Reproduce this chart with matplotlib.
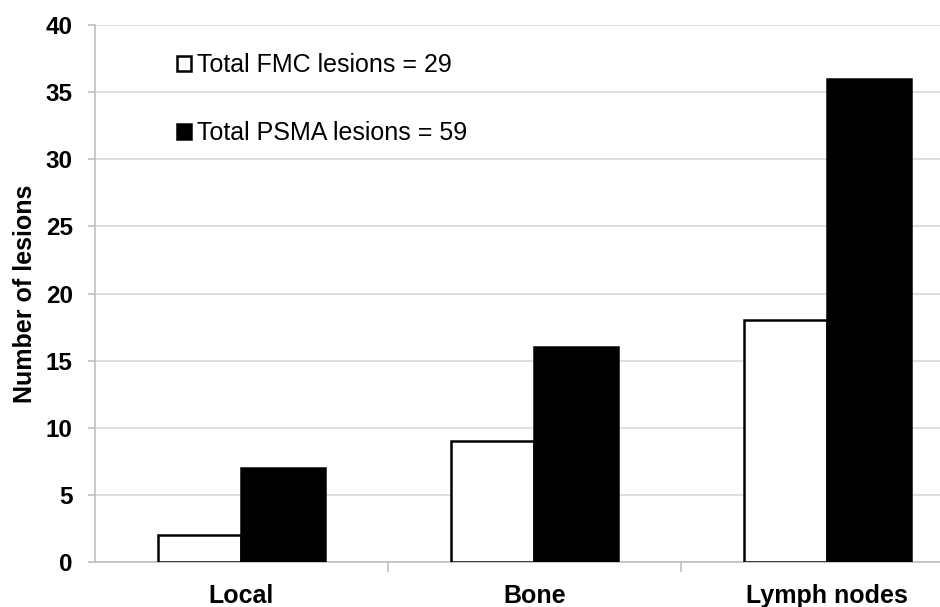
import numpy as np
import matplotlib.pyplot as plt

plt.rcParams['font.family'] = ['Liberation Sans', 'DejaVu Sans']

# 数据
categories = ['Local', 'Bone', 'Lymph nodes']
fmc_values = [2, 9, 18]
psma_values = [7, 16, 36]
fmc_label = 'Total FMC lesions = 29'
psma_label = 'Total PSMA lesions = 59'
y_ticks = [0, 5, 10, 15, 20, 25, 30, 35, 40]

fig = plt.figure(figsize=(9.4, 6.07), dpi=100)
ax = fig.add_axes([0.101, 0.0741, 0.935, 0.8847])

x = np.arange(len(categories))
w = 0.286
ax.bar(x - w/2, fmc_values, w, color='white', edgecolor='black', linewidth=1.8, label=fmc_label, zorder=3)
ax.bar(x + w/2, psma_values, w, color='black', edgecolor='black', linewidth=1.8, label=psma_label, zorder=3)

ax.set_xlim(-0.5, 2.5)
ax.set_ylim(0, 40)
ax.set_yticks(y_ticks)
ax.yaxis.grid(True, color='#d9d9d9', linewidth=1.2, zorder=0)
ax.set_axisbelow(True)

#类别分隔刻度
ax.set_xticks([0.5, 1.5])
ax.set_xticklabels([])
ax.set_xticks(x, minor=True)
ax.set_xticklabels(categories, minor=True, fontsize=18, fontweight='bold')
ax.tick_params(axis='x', which='major', length=7, color='#bfbfbf', width=1.2)
ax.tick_params(axis='x', which='minor', length=0, pad=16)
ax.tick_params(axis='y', length=5, color='#bfbfbf', width=1.2, labelsize=17.5, pad=11)
for lab in ax.get_yticklabels():
    lab.set_fontweight('bold')

for s in ['top', 'right']:
    ax.spines[s].set_visible(False)
ax.spines['left'].set_color('#bfbfbf')
ax.spines['left'].set_linewidth(1.2)
ax.spines['bottom'].set_color('#bfbfbf')
ax.spines['bottom'].set_linewidth(1.2)

ax.set_ylabel('Number of lesions', fontsize=18, fontweight='bold', labelpad=6)

ax.legend(loc='upper left', bbox_to_anchor=(0.068, 0.99), frameon=False, fontsize=18,
          handlelength=0.55, handleheight=0.55, handletextpad=0.25, labelspacing=1.78)

fig.savefig('out.png', dpi=100)
